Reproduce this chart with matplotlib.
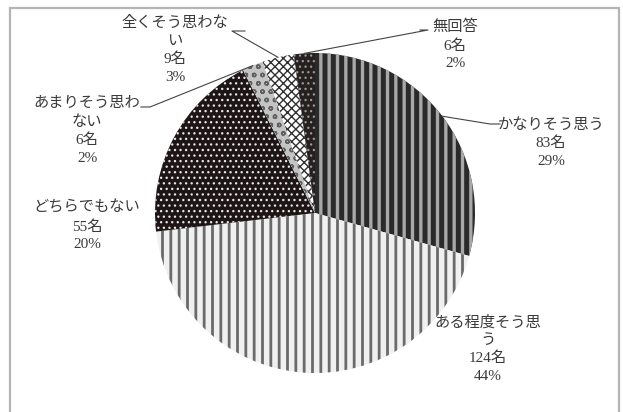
import matplotlib
matplotlib.use("Agg")
import matplotlib.pyplot as plt
import numpy as np
from matplotlib.patches import Rectangle

plt.rcParams['font.family'] = ['Liberation Serif', 'Noto Sans CJK JP', 'DejaVu Sans']
plt.rcParams['hatch.linewidth'] = 1.2

# data (clockwise from 12 o'clock)
categories = ["かなりそう思う", "ある程度そう思う", "どちらでもない", "あまりそう思わない", "全くそう思わない", "無回答"]
counts = [83, 124, 55, 6, 9, 6]
pct_labels = ["29%", "44%", "20%", "2%", "3%", "2%"]
label_texts = [
    "かなりそう思う\n83名\n29%",
    "ある程度そう思\nう\n124名\n44%",
    "どちらでもない\n55名\n20%",
    "あまりそう思わ\nない\n6名\n2%",
    "全くそう思わな\nい\n9名\n3%",
    "無回答\n6名\n2%",
]

W, H = 623, 412
fig = plt.figure(figsize=(W / 100, H / 100), dpi=100)
ax = fig.add_axes([0, 0, 1, 1])

cx, cy, R = 315, H - 213, 160

faces = ['#2a2a2a', '#f0f0f0', '#1e1616', '#c4c4c4', '#ffffff', '#262020']
hcols = ['#a8a8a8', '#6a6a6a', '#e8e8e8', '#606060', '#303030', '#9a9a9a']
hatches = ['||', '||', '...', 'oo', 'xxxx', '...']
hlws = [2.4, 2.0, 0.9, 1.0, 1.0, 0.9]

wedges, _ = ax.pie(counts, center=(cx, cy), radius=R, startangle=90,
                   counterclock=False, frame=True)
ax.set_xlim(0, W)
ax.set_ylim(0, H)
ax.set_aspect('equal')
ax.axis('off')
for w, fc, hc, hp, hl in zip(wedges, faces, hcols, hatches, hlws):
    w.set_facecolor(fc)
    w.set_edgecolor(hc)
    w.set_hatch(hp)
    w.set_linewidth(0)
    if hasattr(w, 'set_hatch_linewidth'):
        w.set_hatch_linewidth(hl)

# label positions (pixel coords from top-left), leader elbow points
label_pos = [(551, 143), (488, 349), (87, 226), (87, 131), (175, 50), (455, 45)]
elbows = [((490, 124), (500, 124)), None, None, ((150, 107), (141, 107)),
          ((232, 31), (245, 31)), ((428, 30), (420, 30))]

txtc = '#3a3a3a'
for w, txt, (lx, ly), el in zip(wedges, label_texts, label_pos, elbows):
    ax.text(lx, H - ly, txt, ha='center', va='center', fontsize=11,
            color=txtc, linespacing=1.45)
    if el is not None:
        ang = np.deg2rad((w.theta1 + w.theta2) / 2)
        px, py = cx + R * np.cos(ang), cy + R * np.sin(ang)
        (ex, ey), (fx, fy) = el
        ax.plot([px, ex, fx], [py, H - ey, H - fy], color='#444444', lw=0.8)

# outer frame
fig.patches.append(Rectangle((10 / W, -0.1), (619 - 10) / W, (H - 8) / H + 0.1,
                             transform=fig.transFigure, fill=False,
                             edgecolor='#b4b4b4', lw=1.6))

fig.savefig('out.png', dpi=100)
